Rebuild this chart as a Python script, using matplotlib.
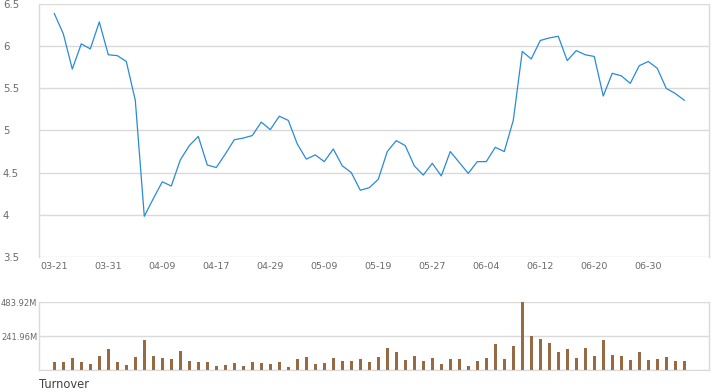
import matplotlib
matplotlib.use("Agg")
import matplotlib.pyplot as plt

dates = ["03-21", "03-24", "03-25", "03-26", "03-27", "03-28", "03-31", "04-01", "04-02", "04-03",
         "04-07", "04-08", "04-09", "04-10", "04-11", "04-14", "04-15", "04-16", "04-17", "04-22",
         "04-23", "04-24", "04-25", "04-28", "04-29", "04-30", "05-02", "05-06", "05-07", "05-08",
         "05-09", "05-12", "05-13", "05-14", "05-15", "05-16", "05-19", "05-20", "05-21", "05-22",
         "05-23", "05-26", "05-27", "05-28", "05-29", "05-30", "06-02", "06-03", "06-04", "06-05",
         "06-06", "06-09", "06-10", "06-11", "06-12", "06-13", "06-16", "06-17", "06-18", "06-19",
         "06-20", "06-23", "06-24", "06-25", "06-26", "06-27", "06-30", "07-02", "07-03", "07-04",
         "07-07"]

price = [6.39, 6.15, 5.73, 6.03, 5.97, 6.29, 5.90, 5.89, 5.82, 5.36,
         3.98, 4.19, 4.39, 4.34, 4.65, 4.82, 4.93, 4.59, 4.56, 4.72,
         4.89, 4.91, 4.94, 5.10, 5.01, 5.17, 5.12, 4.84, 4.66, 4.71,
         4.63, 4.78, 4.58, 4.50, 4.29, 4.32, 4.42, 4.75, 4.88, 4.82,
         4.58, 4.47, 4.61, 4.46, 4.75, 4.62, 4.49, 4.63, 4.63, 4.80,
         4.75, 5.12, 5.94, 5.85, 6.07, 6.10, 6.12, 5.83, 5.95, 5.90,
         5.88, 5.41, 5.68, 5.65, 5.56, 5.77, 5.82, 5.74, 5.50, 5.44,
         5.36]

turnover_m = [59.6, 59.6, 85.8, 59.6, 45.3, 100.0, 150.0, 59.6, 35.7, 92.9,
              214.0, 100.0, 85.8, 78.6, 135.8, 64.3, 59.6, 59.6, 28.6, 35.7,
              50.0, 28.6, 57.2, 50.0, 42.9, 57.2, 21.4, 78.6, 92.9, 42.9,
              50.0, 85.8, 64.3, 64.3, 78.6, 57.2, 92.9, 157.0, 128.7, 71.5,
              100.0, 64.3, 85.8, 42.9, 78.6, 78.6, 28.6, 64.3, 85.8, 185.8,
              78.6, 171.6, 483.92, 243.0, 221.6, 193.0, 128.7, 150.0, 85.8, 157.0,
              100.0, 214.0, 107.0, 100.0, 71.5, 128.7, 71.5, 78.6, 92.9, 64.3,
              64.3]

price_ticks = [3.5, 4, 4.5, 5, 5.5, 6, 6.5]
price_tick_labels = ["3.5", "4", "4.5", "5", "5.5", "6", "6.5"]
turnover_ticks = [241.96, 483.92]
turnover_tick_labels = ["241.96M", "483.92M"]
x_tick_idx = list(range(0, len(dates), 6))

W, H = 720, 392
fig = plt.figure(figsize=(W / 100, H / 100), dpi=100)
plt.rcParams['font.family'] = ['DejaVu Sans']

grid_c = "#dadada"
text_c = "#6a6a6a"
line_c = "#2a8ad8"
bar_c = "#986a44"

def fx(px):
    return px / W

def fy(py):
    return 1 - py / H

left_px, right_px = 39, 709
ax = fig.add_axes([fx(left_px), fy(256.7), fx(right_px - left_px), (256.7 - 4.3) / H])
x = list(range(len(dates)))
ax.plot(x, price, color=line_c, lw=0.9)
ax.set_xlim(-1.7, 72.75)
ax.set_ylim(3.5, 6.5)
ax.set_yticks(price_ticks)
ax.set_yticklabels(price_tick_labels)
ax.set_xticks(x_tick_idx)
ax.set_xticklabels([dates[i] for i in x_tick_idx])
ax.grid(axis='y', color=grid_c, lw=1)
ax.set_axisbelow(True)
for s in ['top', 'bottom']:
    ax.spines[s].set_visible(False)
for s in ['left', 'right']:
    ax.spines[s].set_color(grid_c)
    ax.spines[s].set_linewidth(1)
ax.tick_params(axis='y', length=0, pad=26.0, labelsize=7.3, labelcolor=text_c)
for lab in ax.get_yticklabels():
    lab.set_horizontalalignment('left')
ax.tick_params(axis='x', length=0, pad=4, labelsize=6.8, labelcolor=text_c)

ax2 = fig.add_axes([fx(left_px), fy(370), fx(right_px - left_px), (370 - 302.3) / H])
ax2.bar(x, turnover_m, width=0.34, color=bar_c)
ax2.set_xlim(-1.7, 72.75)
ax2.set_ylim(0, 483.92)
ax2.set_yticks([0] + turnover_ticks)
ax2.set_yticklabels([""] + turnover_tick_labels)
ax2.set_xticks([])
ax2.grid(axis='y', color=grid_c, lw=1)
ax2.set_axisbelow(True)
ax2.spines['top'].set_visible(False)
ax2.spines['bottom'].set_color(grid_c)
for s in ['left', 'right']:
    ax2.spines[s].set_color(grid_c)
    ax2.spines[s].set_linewidth(1)
ax2.tick_params(axis='y', length=0, pad=1.2, labelsize=6, labelcolor=text_c)

fig.text(fx(39), fy(384.5), "Turnover", fontsize=8.3, color="#444444", ha='left', va='center')

fig.savefig("out.png", dpi=100)
